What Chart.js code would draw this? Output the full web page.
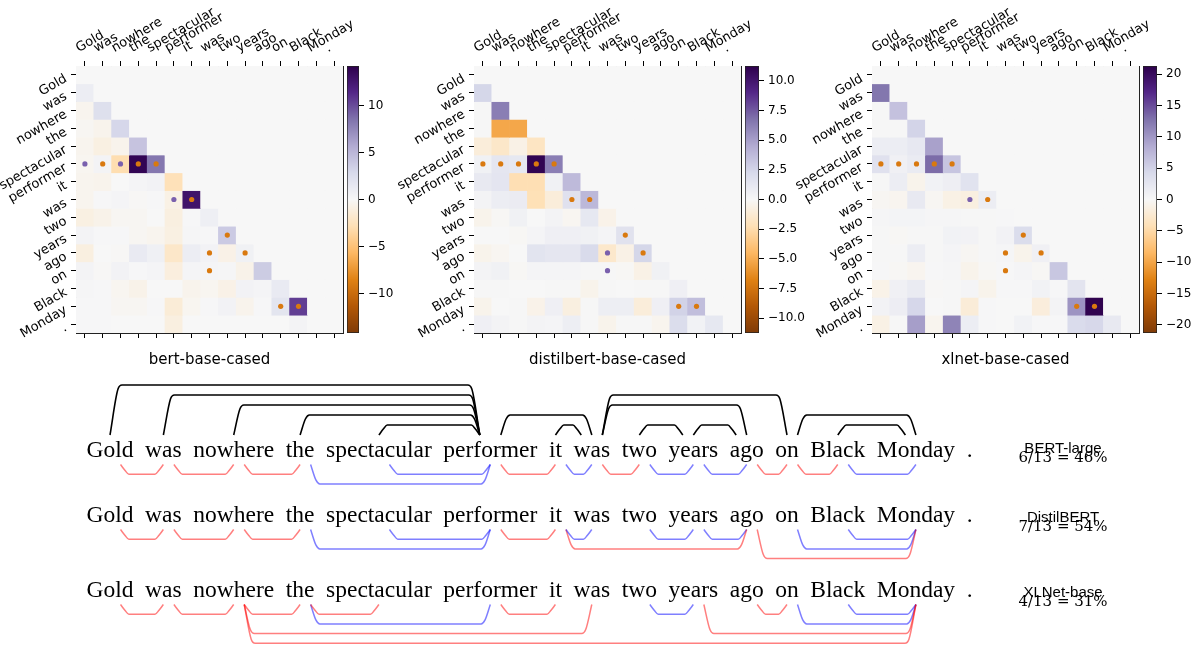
<!DOCTYPE html>
<html><head><meta charset="utf-8">
<script src="https://cdn.jsdelivr.net/npm/chart.js@4.4.0/dist/chart.umd.min.js"></script>
<style>
html,body{margin:0;padding:0;background:#fff;}
#wrap{position:relative;width:1199px;height:649px;overflow:hidden;background:#fff;}
canvas{position:absolute;}
</style></head><body><div id="wrap"></div>
<script>
// ================= DATA =================
const tokens = ["Gold","was","nowhere","the","spectacular","performer","it","was","two","years","ago","on","Black","Monday","."];
const modelNames = ["bert-base-cased","distilbert-base-cased","xlnet-base-cased"];

// lower-triangular impact matrices (row i holds columns 0..i-1)
const bertMatrix = [
  [],
  [1.0],
  [-0.4, 2.3],
  [-0.2, -0.5, 3.0],
  [-0.4, -0.9, -0.5, 4.2],
  [-0.3, 0.4, -3.0, 13.8, 8.3],
  [-0.4, -0.5, 0.0, 0.3, 0.5, -2.7],
  [-0.4, 0.1, 0.3, -0.1, 0.1, -0.8, 12.8],
  [-0.9, -0.6, -0.2, -0.2, 0.0, -1.0, 0.1, 0.8],
  [0.4, 0.1, 0.1, -0.2, -0.4, -0.9, 0.2, 0.1, 3.8],
  [-1.0, 0.0, -0.1, 1.3, 0.7, -2.0, 1.0, 0.5, -0.7, 0.6],
  [0.4, -0.1, 0.5, 0.1, 0.3, -1.1, 0.3, 0.3, 0.2, -0.6, 3.7],
  [0.2, 0.1, -0.3, -0.6, 0.0, 0.0, -0.5, -0.3, -0.7, 0.5, 0.3, 1.3],
  [0.1, 0.1, -0.2, -0.2, 0.1, -1.4, -0.3, 0.1, 0.5, -0.5, 0.1, 1.8, 10.5],
  [0.1, 0.1, 0.0, 0.0, 0.0, -1.0, 0.0, 0.0, 0.0, 0.0, 0.0, 0.0, 0.4, 0.0]
];
const distilMatrix = [
  [],
  [2.4],
  [0.1, 6.3],
  [0.1, -5.2, -5.2],
  [-1.0, -1.6, -0.6, -1.8],
  [0.5, 1.3, 1.2, 11.0, 6.3],
  [1.1, 1.4, -2.3, -2.3, 0.5, 3.8],
  [0.3, 0.8, 0.9, -2.2, -1.0, 1.7, 3.9],
  [-0.4, -0.1, 0.5, 0.0, 0.3, -0.2, 1.2, -0.5],
  [0.0, 0.0, -0.1, 0.2, 0.6, 0.6, 0.5, 0.2, 1.6],
  [-0.4, -0.2, 0.0, 1.5, 1.3, 1.3, 2.2, -1.5, -0.6, 2.4],
  [0.3, 0.5, -0.1, 0.2, 0.2, 0.2, 0.1, 0.1, -0.1, -0.6, 0.5],
  [0.1, 0.1, 0.0, 0.0, 0.1, 0.1, -0.4, 0.1, 0.0, 0.1, 0.1, 0.6],
  [-0.4, 0.0, 0.1, -0.5, 0.6, -0.8, 0.1, 0.7, 0.7, -1.0, 0.6, 2.6, 3.6],
  [0.6, 0.3, 0.1, 0.3, 0.2, 0.7, 0.1, -0.4, 0.1, 0.1, -0.3, 2.0, 0.4, 1.2]
];
const xlnetMatrix = [
  [],
  [12.5],
  [0.2, 6.5],
  [0.2, 0.2, 4.8],
  [1.5, 1.5, 2.2, 9.3],
  [3.2, 1.0, 1.8, 13.2, 6.2],
  [0.2, 1.5, -0.8, 0.8, 1.3, 3.0],
  [-0.3, -0.5, 2.0, -0.3, -1.2, -1.5, 1.5],
  [0.3, 0.5, 0.5, 0.3, 0.3, 0.2, 0.2, 0.1],
  [0.2, -0.2, 0.2, 0.2, 0.8, 0.7, 0.2, 0.7, 3.8],
  [0.2, 0.2, 1.5, 0.2, 0.4, -0.3, 0.2, 0.3, -0.8, 1.0],
  [0.1, -0.2, -0.5, 0.1, 0.3, -0.8, -0.2, 0.1, 0.4, -0.2, 6.0],
  [-1.0, 1.0, 1.8, -0.1, 0.2, 0.4, -0.8, 0.1, 0.1, 0.8, 0.1, 2.8],
  [0.7, 1.4, 4.5, 0.0, 0.2, -2.0, 0.1, 0.0, 0.0, -1.8, 0.6, 10.3, 21.0],
  [-1.2, 0.2, 9.5, -0.6, 11.5, 1.5, 0.1, 0.0, 0.8, 0.1, 0.1, 4.0, 4.4, 2.0]
];
const colorbarMax = [14.2, 11.25, 21.3];
const bertTicks = [-10, -5, 0, 5, 10];
const distilTicks = [-10, -7.5, -5, -2.5, 0, 2.5, 5, 7.5, 10];
const xlnetTicks = [-20, -15, -10, -5, 0, 5, 10, 15, 20];

// gold dependency arcs [head, dependent]
const goldArcs = [[5,0],[5,1],[5,2],[5,3],[5,4],[5,7],[7,6],[7,10],[7,11],[9,8],[10,9],[11,13],[13,12]];
// dot class at each gold arc cell, per heatmap model (P = purple, O = orange)
const bertDots   = ["P","O","P","O","O","P","O","O","O","O","O","O","O"];
const distilDots = ["O","O","O","O","O","O","O","P","P","O","O","O","O"];
const xlnetDots  = ["O","O","O","O","O","P","O","O","O","O","O","O","O"];

// induced trees: predicted edges [left word, right word]
const parserNames = ["BERT-large","DistilBERT","XLNet-base"];
const bertLargeArcs  = [[0,1],[1,2],[2,3],[3,5],[4,5],[5,6],[6,7],[7,8],[8,9],[9,10],[10,11],[11,12],[12,13]];
const distilbertArcs = [[0,1],[1,2],[2,3],[3,5],[4,5],[5,6],[6,7],[6,10],[8,9],[9,10],[10,13],[11,13],[12,13]];
const xlnetBaseArcs  = [[0,1],[1,2],[2,3],[3,4],[3,5],[2,7],[2,13],[5,6],[8,9],[9,13],[10,11],[11,13],[12,13]];

// ================= LAYOUT / STYLE =================
const L = {
  heatTop: 66, heatBottom: 333, heatSize: 267, canvasH: 372,
  heatLefts: [76, 474, 872], yAxisW: 76, heatPadRight: 24,
  cbLefts: [347, 745, 1143], cbWidths: [12, 14, 14], cbAxisW: 62,
  sentTop: 370, sentH: 279, x0: 86.5, gap: 11.6, sentFont: '23.5px "Liberation Serif"',
  baselines: [457, 522, 597], topFeet: 435, topStep: 10, botFootGap: 7.5, botStep: 9.7, headOff: 10.5,
  labelX: 1063, nameBase: [453, 522, 597], scoreBase: [462, 531, 606]
};
const DOT_P = '#7a60ad', DOT_O = '#d9790f';
const PUOR = [[127,59,8],[179,88,6],[224,130,20],[253,184,99],[254,224,182],[247,247,247],[216,218,235],[178,171,210],[128,115,172],[84,39,136],[45,0,75]];
function puor(t){
  t = Math.max(0, Math.min(1, t));
  const p = t*10, i = Math.min(9, Math.floor(p)), f = p - i, a = PUOR[i], b = PUOR[i+1];
  return 'rgb(' + a.map((v,j)=>Math.round(v + (b[j]-v)*f)).join(',') + ')';
}
Chart.defaults.color = '#000';
Chart.defaults.font.family = '"DejaVu Sans"';

const wrap = document.getElementById('wrap');
function addCanvas(x, y, w, h){
  const c = document.createElement('canvas');
  c.width = w; c.height = h;
  c.style.left = x + 'px'; c.style.top = y + 'px';
  c.style.width = w + 'px'; c.style.height = h + 'px';
  wrap.appendChild(c);
  return c;
}

// ================= HEATMAPS =================
const matrices = [bertMatrix, distilMatrix, xlnetMatrix];
const dotSets = [bertDots, distilDots, xlnetDots];
const tickSets = [bertTicks, distilTicks, xlnetTicks];
const colIdx = tokens.map((_, i) => i);
const axisGrid = {drawOnChartArea:false, drawTicks:true, tickLength:5, color:'#000', lineWidth:1, offset:false};
const axisBorder = {display:true, color:'#222', width:1};

function makeHeatmap(k){
  const m = matrices[k], vmax = colorbarMax[k];
  const val = (r, c) => (c < r ? m[r][c] : 0);
  const w = L.yAxisW + L.heatSize + L.heatPadRight;
  const cv = addCanvas(L.heatLefts[k] - L.yAxisW, 0, w, L.canvasH);
  const datasets = tokens.map((_, r) => ({
    type: 'bar', order: 1,
    data: colIdx.map(() => [r - 0.5, r + 0.5]),
    backgroundColor: colIdx.map(c => puor((val(r, c) + vmax) / (2*vmax))),
    borderWidth: 0, barPercentage: 1, categoryPercentage: 1, grouped: false
  }));
  datasets.push({
    type: 'scatter', order: 0,
    data: goldArcs.map(([h, d]) => ({x: Math.min(h, d), y: Math.max(h, d)})),
    pointRadius: 2.6, pointBorderWidth: 0,
    pointBackgroundColor: dotSets[k].map(f => f === 'P' ? DOT_P : DOT_O)
  });
  const tickFont = {family:'"DejaVu Sans"', size:13};
  new Chart(cv, {
    type: 'bar',
    data: {labels: colIdx, datasets},
    options: {
      responsive: false, animation: false, events: [],
      layout: {padding: {left:0, right:L.heatPadRight, top:0, bottom:0}},
      plugins: {legend:{display:false}, tooltip:{enabled:false}},
      scales: {
        x: {type:'category', position:'top', offset:true, grid:axisGrid, border:axisBorder,
            ticks:{autoSkip:false, minRotation:30, maxRotation:30, padding:5, font:tickFont, color:'#000',
                   callback:(v, i) => tokens[i]},
            afterFit: s => { s.height = L.heatTop; }},
        x2: {type:'category', position:'bottom', offset:true, grid:axisGrid, border:axisBorder,
             ticks:{display:false},
             title:{display:true, text:modelNames[k], color:'#000', font:{family:'"DejaVu Sans"', size:15}, padding:{top:0, bottom:3}},
             afterFit: s => { s.height = L.canvasH - L.heatBottom; }},
        y: {type:'linear', position:'left', reverse:true, min:-0.5, max:tokens.length - 0.5,
            afterBuildTicks: s => { s.ticks = colIdx.map(i => ({value:i})); },
            grid:axisGrid, border:axisBorder,
            ticks:{autoSkip:false, minRotation:30, maxRotation:30, padding:5, labelOffset:3, font:tickFont, color:'#000',
                   callback: v => tokens[v]},
            afterFit: s => { s.width = L.yAxisW; }},
        y2: {type:'linear', position:'right', min:-0.5, max:tokens.length - 0.5,
             ticks:{display:false}, grid:{display:false, drawTicks:false}, border:axisBorder,
             afterFit: s => { s.width = 0; }}
      }
    }
  });
}

function makeColorbar(k){
  const vmax = colorbarMax[k], ticks = tickSets[k], cw = L.cbWidths[k];
  const dec = ticks.some(t => !Number.isInteger(t));
  const cv = addCanvas(L.cbLefts[k], 0, cw + L.cbAxisW, L.canvasH);
  new Chart(cv, {
    type: 'bar',
    data: {labels: [''], datasets: [{
      data: [[-vmax, vmax]],
      backgroundColor: (ctx) => {
        const area = ctx.chart.chartArea;
        if (!area) return '#f7f7f7';
        const g = ctx.chart.ctx.createLinearGradient(0, area.bottom, 0, area.top);
        PUOR.forEach((c, i) => g.addColorStop(i/10, 'rgb(' + c.join(',') + ')'));
        return g;
      },
      borderColor: '#222', borderWidth: 1, borderSkipped: false,
      barPercentage: 1, categoryPercentage: 1
    }]},
    options: {
      responsive: false, animation: false, events: [],
      layout: {padding: {left:0, right:0, top:L.heatTop, bottom:L.canvasH - L.heatBottom}},
      plugins: {legend:{display:false}, tooltip:{enabled:false}},
      scales: {
        x: {display:false},
        y: {position:'right', min:-vmax, max:vmax,
            afterBuildTicks: s => { s.ticks = ticks.map(v => ({value:v})); },
            grid:{drawOnChartArea:false, drawTicks:true, tickLength:5, color:'#000'},
            border:{display:false},
            ticks:{padding:4, color:'#000', font:{family:'"DejaVu Sans"', size:12},
                   callback: v => (v < 0 ? '\u2212' : '') + (dec ? Math.abs(v).toFixed(1) : String(Math.abs(v)))},
            afterFit: s => { s.width = L.cbAxisW; }}
      }
    }
  });
}

[0,1,2].forEach(k => { makeHeatmap(k); makeColorbar(k); });

// ================= DEPENDENCY DIAGRAM =================
const mctx = document.createElement('canvas').getContext('2d');
mctx.font = L.sentFont;
const wordW = tokens.map(t => mctx.measureText(t).width);
const wordLeft = []; { let x = L.x0; wordW.forEach(w => { wordLeft.push(x); x += w + L.gap; }); }
const wordC = wordLeft.map((l, i) => l + wordW[i]/2);

function arcPts(xa, xb, yFoot, yEnd){
  const h = Math.abs(yEnd - yFoot), dir = Math.sign(yEnd - yFoot);
  const r = 4, s = 3.5 + 0.09*h;
  return [
    {x: xa, y: yFoot}, {x: xa + s, y: yEnd - dir*r}, {x: xa + s + r, y: yEnd},
    {x: xb - s - r, y: yEnd}, {x: xb - s, y: yEnd - dir*r}, {x: xb, y: yFoot}
  ];
}
function isGold(a, b){ return goldArcs.some(([h, d]) => (h === a && d === b) || (h === b && d === a)); }
function nestLevels(arcs){
  const sp = arcs.map(([a, b]) => [Math.min(a,b), Math.max(a,b)]);
  const ord = sp.map((_, i) => i).sort((i, j) => (sp[i][1]-sp[i][0]) - (sp[j][1]-sp[j][0]));
  const lv = new Array(arcs.length).fill(1);
  ord.forEach(i => {
    let m = 0;
    sp.forEach((s, j) => {
      if (j !== i && s[0] >= sp[i][0] && s[1] <= sp[i][1] && (s[1]-s[0]) < (sp[i][1]-sp[i][0])) m = Math.max(m, lv[j]);
    });
    lv[i] = m + 1;
  });
  return lv;
}
const lineBase = {type:'scatter', showLine:true, pointRadius:0, pointHoverRadius:0, cubicInterpolationMode:'monotone', fill:false};
const arcSets = [];
goldArcs.forEach(([h, d]) => {
  const hx = wordC[h] + L.headOff * Math.sign(d - h), dx = wordC[d];
  const lvl = Math.abs(h - d);
  arcSets.push(Object.assign({}, lineBase, {
    data: arcPts(Math.min(hx, dx), Math.max(hx, dx), L.topFeet, L.topFeet - L.topStep*lvl),
    borderColor: '#000', borderWidth: 1.6
  }));
});
const predicted = [bertLargeArcs, distilbertArcs, xlnetBaseArcs];
predicted.forEach((arcs, k) => {
  const lv = nestLevels(arcs);
  const foot = L.baselines[k] + L.botFootGap;
  arcs.forEach(([a, b], i) => {
    const lo = Math.min(a, b), hi = Math.max(a, b);
    arcSets.push(Object.assign({}, lineBase, {
      data: arcPts(wordC[lo] + L.headOff, wordC[hi], foot, foot + L.botStep*lv[i]),
      borderColor: isGold(a, b) ? 'rgba(0,0,255,0.5)' : 'rgba(255,0,0,0.5)', borderWidth: 1.5
    }));
  });
});
function scoreText(k){
  const arcs = predicted[k];
  const c = arcs.filter(([a, b]) => isGold(a, b)).length;
  return c + '/' + arcs.length + ' = ' + Math.round(100*c/arcs.length) + '%';
}
const sentenceText = {
  id: 'sentenceText',
  afterDatasetsDraw(chart){
    const {ctx, scales:{x, y}} = chart;
    ctx.save();
    ctx.fillStyle = '#000';
    ctx.textAlign = 'left'; ctx.textBaseline = 'alphabetic';
    ctx.font = L.sentFont;
    L.baselines.forEach(b => tokens.forEach((t, i) => ctx.fillText(t, x.getPixelForValue(wordLeft[i]), y.getPixelForValue(b))));
    ctx.textAlign = 'center';
    parserNames.forEach((n, k) => {
      ctx.font = '15px "Liberation Sans"';
      ctx.fillText(n, x.getPixelForValue(L.labelX), y.getPixelForValue(L.nameBase[k]));
      ctx.font = '15px "DejaVu Serif"';
      ctx.fillText(scoreText(k), x.getPixelForValue(L.labelX), y.getPixelForValue(L.scoreBase[k]));
    });
    ctx.restore();
  }
};
const sc = addCanvas(0, L.sentTop, 1199, L.sentH);
new Chart(sc, {
  type: 'scatter',
  data: {datasets: arcSets},
  options: {
    responsive: false, animation: false, events: [],
    layout: {padding: 0},
    plugins: {legend:{display:false}, tooltip:{enabled:false}},
    scales: {
      x: {type:'linear', display:false, min:0, max:1199},
      y: {type:'linear', display:false, min:L.sentTop, max:L.sentTop + L.sentH, reverse:true}
    }
  },
  plugins: [sentenceText]
});
</script>
</body></html>
